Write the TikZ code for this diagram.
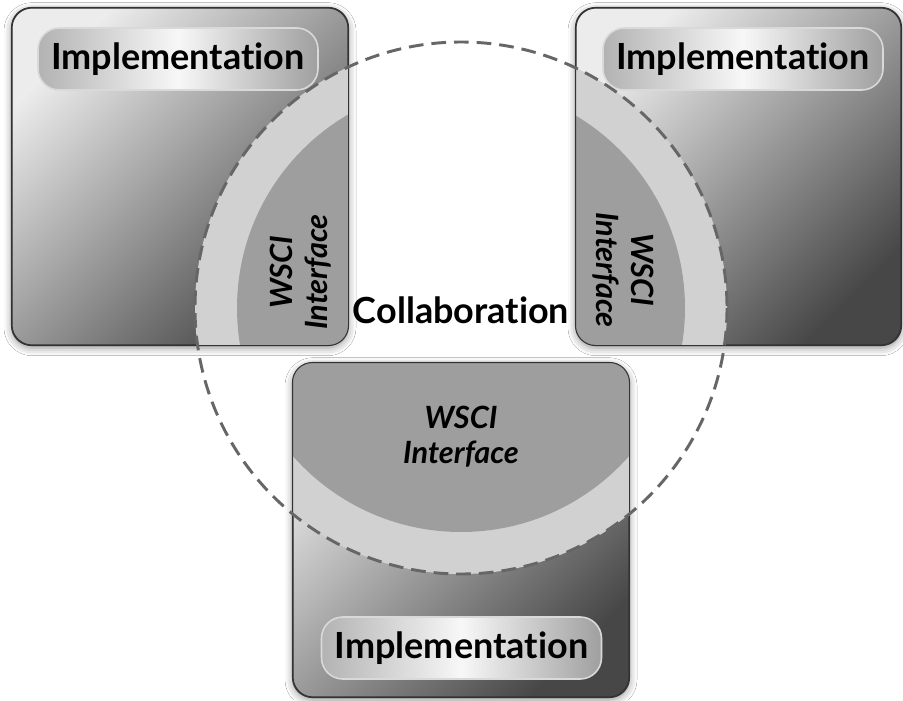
\documentclass[tikz,border=0pt]{standalone}
\usepackage{fontspec}
\setmainfont{Lato}[Ligatures=NoCommon]
\usetikzlibrary{shadows.blur}

\tikzset{
  implbox/.style={rounded corners=15pt, draw=black!80, line width=0.8pt, inner sep=0pt,
    top color=gray!15, bottom color=black!72, shading angle=45,
    blur shadow={shadow blur radius=6pt, shadow xshift=0pt, shadow yshift=-2pt, shadow opacity=45}},
  pill/.style={rounded corners=16pt, draw=white!70!gray, line width=1.2pt,
    left color=gray!60, right color=gray!75, middle color=white!94!gray,
    minimum width=210pt, minimum height=46.5pt, font=\fontsize{27}{32}\selectfont\bfseries},
  wsci/.style={align=center, font=\fontsize{23}{26}\selectfont\bfseries\itshape},
  ring/.style={fill=gray!36},
  core/.style={fill=gray!76},
  collab/.style={dash pattern=on 11pt off 6pt, line width=2.2pt, draw=black!60},
}

\begin{document}
\begin{tikzpicture}[x=0.75pt, y=-0.75pt]
        \useasboundingbox (0,0) rectangle (903,700);
        \fill[white] (0,0) rectangle (903,700);

        % the three implementation boxes
        \node[implbox, minimum width=252pt, minimum height=252.75pt] (leftbox) at (180,176.5) {};
        \node[implbox, minimum width=243.75pt, minimum height=252.75pt] (rightbox) at (738.5,176.5) {};
        \node[implbox, minimum width=252pt, minimum height=250.5pt] (bottombox) at (461,530) {};

        % centre of the collaboration circle
        \coordinate (collab) at (461,308);

        % interface part of each box, inside the circle
        \foreach \b in {leftbox,rightbox,bottombox}{
          \begin{scope}
            \clip[rounded corners=15pt] (\b.south west) rectangle (\b.north east);
            \fill[ring] (collab) circle[radius=266];
            \fill[core] (collab) circle[radius=224];
          \end{scope}
          \draw[rounded corners=15pt, draw=black!80, line width=0.8pt] (\b.south west) rectangle (\b.north east);
        }

        % the collaboration circle
        \draw[collab] (collab) circle[radius=266];

        % labels
        \node[pill] (leftimpl) at (178,59) {Implementation};
        \node[pill] (rightimpl) at (743,59) {Implementation};
        \node[pill] (bottomimpl) at (461.5,648) {Implementation};

        \node[wsci, rotate=90] (leftwsci) at (301,272) {WSCI\\Interface};
        \node[wsci, rotate=-90] (rightwsci) at (623,270) {WSCI\\Interface};
        \node[wsci] (bottomwsci) at (461,437) {WSCI\\Interface};

        \node[font=\fontsize{27}{32}\selectfont\bfseries] (collabtext) at (461,310) {Collaboration};
\end{tikzpicture}
\end{document}
